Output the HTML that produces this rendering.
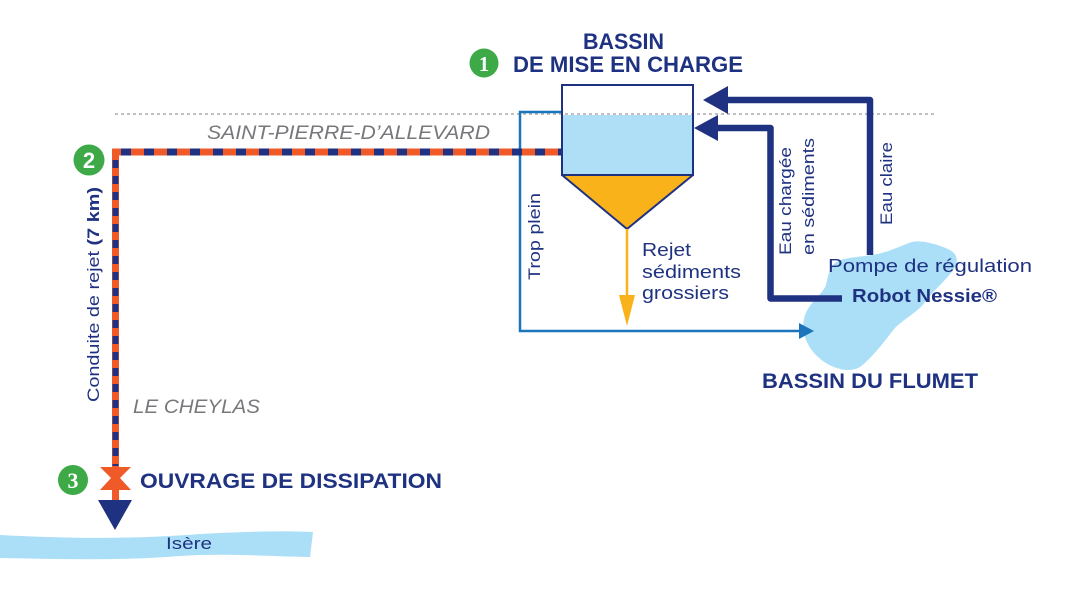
<!DOCTYPE html>
<html>
<head>
<meta charset="utf-8">
<style>
  html,body{margin:0;padding:0;background:#fff;}
  svg{display:block;}
  text{font-family:"Liberation Sans", Arial, sans-serif;}
</style>
</head>
<body>
<svg width="1066" height="595" viewBox="0 0 1066 595" xmlns="http://www.w3.org/2000/svg">
  <rect width="1066" height="595" fill="#ffffff"/>

  <!-- dotted ground line -->
  <line x1="115" y1="114" x2="937" y2="114" stroke="#9a9a9a" stroke-width="1.2" stroke-dasharray="3 3"/>

  <!-- Bassin du Flumet blob -->
  <path d="M912,242 C920,240 935,243 950,250 C960,256 958,265 950,274 C942,284 932,292 925,302 C918,312 905,318 895,328 C885,340 875,355 860,367 C848,374 830,368 818,357 C806,346 800,330 805,315 C810,302 822,295 826,285 C829,272 830,266 838,261 C850,256 870,257 885,252 C898,248 905,244 912,242 Z" fill="#abdff7"/>

  <!-- Isère river -->
  <path d="M0,535 C60,538 120,540 200,534 C250,531 290,531 313,532 L310,557 C260,556 220,553 180,556 C120,561 60,559 0,558 Z" fill="#abdff7"/>
  <text x="166" y="549" font-size="17" fill="#1f3281" textLength="46" lengthAdjust="spacingAndGlyphs">Isère</text>

  <!-- Trop plein line -->
  <polyline points="562,112 520,112 520,331 802,331" fill="none" stroke="#1a75bb" stroke-width="2.5"/>
  <polygon points="814,331 799,323 799,339" fill="#1a75bb"/>

  <!-- Tank -->
  <rect x="562" y="115" width="131" height="60" fill="#aedff7"/>
  <rect x="562" y="85" width="131" height="90" fill="none" stroke="#1f3281" stroke-width="2"/>
  <polygon points="562,175 693,175 627,229" fill="#f9b21a" stroke="#1f3281" stroke-width="2" stroke-linejoin="round"/>

  <!-- Yellow reject -->
  <line x1="627" y1="229" x2="627" y2="300" stroke="#f9b21a" stroke-width="2.5"/>
  <polygon points="619,295 635,295 627,326" fill="#f9b21a"/>

  <!-- Dashed pipe -->
  <polyline points="562,152 115.5,152 115.5,500" fill="none" stroke="#f05a28" stroke-width="7"/>
  <line x1="562" y1="152" x2="119" y2="152" stroke="#1f3281" stroke-width="7" stroke-dasharray="10 13" stroke-dashoffset="6"/>
  <line x1="115.5" y1="160" x2="115.5" y2="466" stroke="#1f3281" stroke-width="6" stroke-dasharray="8 8"/>

  <!-- Bowtie -->
  <polygon points="100,467 131,467 120,478 131,490 100,490 111,478" fill="#f05a28"/>
  <!-- Arrow to Isere -->
  <polygon points="98,500 132,500 115,530" fill="#1f3281"/>

  <!-- Eau claire arrow -->
  <polyline points="870,255 870,100 724,100" fill="none" stroke="#1f3281" stroke-width="6.5" stroke-linejoin="round"/>
  <polygon points="703,100 728,86 728,114" fill="#1f3281"/>

  <!-- Eau chargée arrow -->
  <polyline points="842,298.5 770.5,298.5 770.5,128 714,128" fill="none" stroke="#1f3281" stroke-width="6.5" stroke-linejoin="round"/>
  <polygon points="694,128 718,115 718,141" fill="#1f3281"/>

  <!-- Title -->
  <text x="583" y="49" font-size="22" font-weight="bold" fill="#1f3281" textLength="81" lengthAdjust="spacingAndGlyphs">BASSIN</text>
  <text x="513" y="72" font-size="22" font-weight="bold" fill="#1f3281" textLength="230" lengthAdjust="spacingAndGlyphs">DE MISE EN CHARGE</text>

  <!-- Green circles -->
  <circle cx="484" cy="63" r="14.5" fill="#3daa47"/>
  <text x="484" y="71" font-size="21" font-weight="bold" fill="#fff" text-anchor="middle" style="font-family:'Liberation Serif',serif">1</text>
  <circle cx="89" cy="160" r="15.5" fill="#3daa47"/>
  <text x="89" y="168" font-size="22" font-weight="bold" fill="#fff" text-anchor="middle">2</text>
  <circle cx="73" cy="480" r="15" fill="#3daa47"/>
  <text x="73" y="488" font-size="22" font-weight="bold" fill="#fff" text-anchor="middle" style="font-family:'Liberation Serif',serif">3</text>

  <!-- Place names -->
  <text x="207" y="139" font-size="19" font-style="italic" fill="#77787b" textLength="283" lengthAdjust="spacingAndGlyphs">SAINT-PIERRE-D’ALLEVARD</text>
  <text x="133" y="413" font-size="19" font-style="italic" fill="#77787b" textLength="127" lengthAdjust="spacingAndGlyphs">LE CHEYLAS</text>

  <!-- Conduite -->
  <text transform="translate(99,402) rotate(-90)" font-size="17" fill="#1f3281" textLength="215" lengthAdjust="spacingAndGlyphs">Conduite de rejet <tspan font-weight="bold">(7 km)</tspan></text>

  <!-- Ouvrage -->
  <text x="140" y="488" font-size="21" font-weight="bold" fill="#1f3281" textLength="302" lengthAdjust="spacingAndGlyphs">OUVRAGE DE DISSIPATION</text>

  <!-- Trop plein -->
  <text transform="translate(540,280) rotate(-90)" font-size="17" fill="#1f3281" textLength="87" lengthAdjust="spacingAndGlyphs">Trop plein</text>

  <!-- Rejet sédiments grossiers -->
  <text x="642" y="256" font-size="18" fill="#1f3281" textLength="49" lengthAdjust="spacingAndGlyphs">Rejet</text>
  <text x="642" y="278" font-size="18" fill="#1f3281" textLength="99" lengthAdjust="spacingAndGlyphs">sédiments</text>
  <text x="642" y="299" font-size="18" fill="#1f3281" textLength="87" lengthAdjust="spacingAndGlyphs">grossiers</text>

  <!-- Eau chargée / Eau claire -->
  <text transform="translate(791,255) rotate(-90)" font-size="17" fill="#1f3281" textLength="108" lengthAdjust="spacingAndGlyphs">Eau chargée</text>
  <text transform="translate(814,255) rotate(-90)" font-size="17" fill="#1f3281" textLength="117" lengthAdjust="spacingAndGlyphs">en sédiments</text>
  <text transform="translate(892,225) rotate(-90)" font-size="17" fill="#1f3281" textLength="83" lengthAdjust="spacingAndGlyphs">Eau claire</text>

  <!-- Pompe -->
  <text x="828" y="272" font-size="18.5" fill="#1f3281" textLength="204" lengthAdjust="spacingAndGlyphs">Pompe de régulation</text>
  <text x="852" y="302" font-size="18" font-weight="bold" fill="#1f3281" textLength="145" lengthAdjust="spacingAndGlyphs">Robot Nessie®</text>

  <!-- Bassin du Flumet -->
  <text x="762" y="388" font-size="21" font-weight="bold" fill="#1f3281" textLength="216" lengthAdjust="spacingAndGlyphs">BASSIN DU FLUMET</text>
</svg>
</body>
</html>
